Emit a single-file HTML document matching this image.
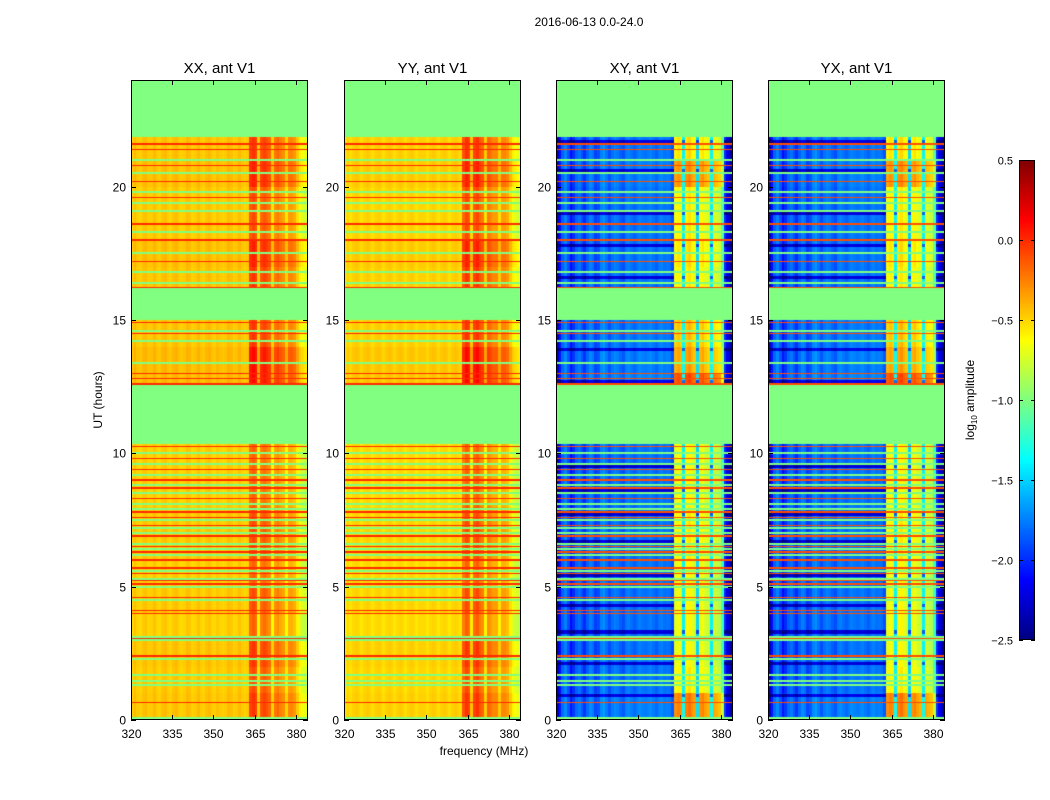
<!DOCTYPE html>
<html><head><meta charset="utf-8"><style>
body{margin:0;background:#fff;font-family:"Liberation Sans","DejaVu Sans",sans-serif;}
#wrap{position:relative;width:1050px;height:800px;overflow:hidden;background:#fff}
canvas{position:absolute}
</style></head><body>
<div id="wrap">
<svg id="ov" width="1050" height="800" style="position:absolute;left:0;top:0;z-index:2"></svg>
</div>
<script>
const freqs=[];for(let f=320;f<384;f++)freqs.push(f);
const xxBand=[-0.5,-0.45,-0.5,-0.52,-0.47,-0.45,-0.5,-0.5,-0.45,-0.5,-0.52,-0.47,-0.45,-0.5,-0.52,-0.47,-0.45,-0.5,-0.52,-0.5,-0.45,-0.47,-0.52,-0.5,-0.45,-0.5,-0.52,-0.47,-0.45,-0.5,-0.52,-0.47,-0.5,-0.52,-0.5,-0.45,-0.47,-0.52,-0.5,-0.45,-0.5,-0.52,-0.5,
-0.2,-0.15,-0.2,-0.6,-0.25,-0.2,-0.25,-0.3,-0.62,-0.35,-0.3,-0.38,-0.42,-0.62,-0.4,-0.4,-0.45,-0.6,-0.72,-0.78,-0.82];
const yyBand=[-0.56,-0.52,-0.56,-0.52,-0.5,-0.52,-0.56,-0.52,-0.5,-0.52,-0.56,-0.52,-0.5,-0.52,-0.56,-0.52,-0.5,-0.52,-0.56,-0.52,-0.5,-0.52,-0.56,-0.52,-0.5,-0.52,-0.56,-0.52,-0.52,-0.52,-0.56,-0.52,-0.5,-0.52,-0.56,-0.52,-0.5,-0.52,-0.56,-0.52,-0.5,-0.52,-0.55,
-0.25,-0.15,-0.2,-0.58,-0.2,-0.15,-0.25,-0.3,-0.6,-0.3,-0.35,-0.4,-0.4,-0.6,-0.4,-0.4,-0.45,-0.6,-0.72,-0.78,-0.82];
const xyBand=[-2.3,-2.1,-1.85,-1.75,-1.9,-2.1,-2.0,-1.85,-1.8,-1.9,-2.0,-1.85,-1.75,-1.8,-1.95,-1.9,-1.75,-1.7,-1.8,-1.9,-1.8,-1.75,-1.78,-1.85,-1.9,-1.78,-1.75,-1.8,-1.85,-1.8,-1.75,-1.78,-1.8,-1.78,-1.75,-1.8,-1.85,-1.78,-1.75,-1.8,-1.78,-1.8,-1.9,
-0.7,-0.65,-0.7,-1.4,-0.65,-0.6,-0.7,-0.75,-1.5,-0.7,-0.65,-0.75,-0.8,-1.4,-0.75,-0.8,-0.85,-1.2,-2.0,-2.2,-2.4];
const yxBand=xyBand.slice();
const hourXX=[0.1,0.05,0.1,0,0.05,0,0.05,0.05,0,0,0,0,0.2,0.2,0.1,0,0.1,0.15,0.05,0.05,0.15,0.1,0,0];
const hourXY=[0.4,0.05,0.0,0,0.0,0,0.05,0.05,0,0,0,0,0.55,0.3,0.2,0,0.05,0.1,0.05,0.05,0.35,0.1,0,0];
const darkRows=[0.9,2.1,3.3,4.3,5.4,6.7,7.7,8.6,9.5,12.7,13.9,16.6,17.8,19.0,20.6,21.7];
const flagRanges=[[21.85,24],[15.0,16.2],[10.35,12.55],[0,0.12]];
const flagLines=[1.3,1.45,1.7,2.3,3.0,3.1,4.5,5.0,5.3,5.6,6.2,6.4,6.6,7.0,7.2,7.5,7.9,8.1,8.5,8.8,9.2,9.6,10.0,13.4,14.2,14.6,16.4,16.8,17.5,18.3,19.1,19.4,19.8,20.5,21.0];
const redLines=[0.65,2.4,3.05,4.0,4.1,4.6,5.1,5.25,5.5,5.7,6.0,6.3,6.5,6.9,7.3,7.6,7.8,8.3,8.7,9.0,9.4,9.8,10.25,12.6,12.8,13.0,14.5,14.9,16.2,17.2,18.0,18.6,19.6,20.2,20.8,21.4,21.6];
const xTicks=[320,335,350,365,380];
const yTicks=[0,5,10,15,20];
const cbTicks=[0.5,0.0,-0.5,-1.0,-1.5,-2.0,-2.5];
const panels=[{t:"XX, ant V1",x:131,band:xxBand,hr:hourXX,cross:false},{t:"YY, ant V1",x:344,band:yyBand,hr:hourXX,cross:false},{t:"XY, ant V1",x:556,band:xyBand,hr:hourXY,cross:true},{t:"YX, ant V1",x:768,band:yxBand,hr:hourXY,cross:true}];
const PT=80,PH=640,PW=177,VMIN=-2.5,VMAX=0.5,FMIN=320,FMAX=384.4,HMAX=24;
function jet(v){let t=(v-VMIN)/(VMAX-VMIN);t=Math.max(0,Math.min(1,t));
 const c=x=>Math.round(255*Math.max(0,Math.min(1,1.5-Math.abs(4*t-x))));
 return `rgb(${c(3)},${c(2)},${c(1)})`;}
const xS=(f,x0)=>x0+(f-FMIN)/(FMAX-FMIN)*PW;
const yS=h=>PT+PH-h/HMAX*PH;
const HP=HMAX/PH;
const near=(h,arr,w)=>arr.some(a=>Math.abs(a-h)<HP*w);
const wrap=document.getElementById('wrap');
const svg=document.getElementById('ov');
const NS="http://www.w3.org/2000/svg";
function mk(tag,at,txt){const e=document.createElementNS(NS,tag);for(const k in at)e.setAttribute(k,at[k]);if(txt!==undefined)e.textContent=txt;svg.appendChild(e);return e;}
panels.forEach((p,pi)=>{
 const cv=document.createElement('canvas');cv.width=PW;cv.height=PH;cv.style.left=p.x+'px';cv.style.top=PT+'px';
 
 
 wrap.appendChild(cv);const g=cv.getContext('2d');
 for(let r=0;r<PH;r++){
  const hm=(PH-r-0.5)*HP;
  const flag=flagRanges.some(q=>hm>=q[0]&&hm<q[1])||near(hm,flagLines,1.0);
  const red=!flag&&near(hm,redLines,0.75);
  const dark=!flag&&!red&&p.cross&&near(hm,darkRows,1.5);
  freqs.forEach((f,i)=>{
   let v;
   if(flag)v=-1.0;
   else if(red)v=p.cross?-0.1:0.0;
   else{const b=p.band[i];const hi=b>-1.25;
     v=b+p.hr[Math.floor(hm)]*(p.cross?(hi?1:0.1):(f>=363?1.3:0.3));
     if(dark&&!hi)v-=0.45;}
   g.fillStyle=jet(v);
   const xa=Math.round(xS(f,p.x)-p.x),xb=Math.round(xS(f+1,p.x)-p.x);
   g.fillRect(xa,r,Math.max(1,xb-xa),1);
  });
  const xr=Math.round(xS(384,p.x)-p.x);g.fillRect(xr,r,PW-xr,1);
 }
 mk('rect',{x:p.x+0.5,y:PT+0.5,width:PW-1,height:PH-1,fill:'none',stroke:'#000','stroke-width':1,});
 mk('text',{x:p.x+PW/2,y:73,'text-anchor':'middle','font-size':15,},p.t);
 xTicks.forEach(t=>{const x=Math.round(xS(t,p.x))+0.5;
  mk('line',{x1:x,x2:x,y1:PT+PH,y2:PT+PH-5,stroke:'#000'});mk('line',{x1:x,x2:x,y1:PT,y2:PT+5,stroke:'#000'});
  mk('text',{x:x,y:738,'text-anchor':'middle','font-size':12,},String(t));});
 yTicks.forEach(t=>{const y=Math.round(yS(t))+0.5;
  mk('line',{x1:p.x,x2:p.x+5,y1:y,y2:y,stroke:'#000'});mk('line',{x1:p.x+PW,x2:p.x+PW-5,y1:y,y2:y,stroke:'#000'});
  mk('text',{x:p.x-5,y:y+4,'text-anchor':'end','font-size':12,},String(t));});
});
mk('text',{x:589,y:26,'text-anchor':'middle','font-size':12,},'2016-06-13 0.0-24.0');
mk('text',{x:484,y:755,'text-anchor':'middle','font-size':12,},'frequency (MHz)');
mk('text',{x:0,y:0,'text-anchor':'middle','font-size':12,transform:'translate(102,400) rotate(-90)',},'UT (hours)');
const CB={x:1019,y:160,w:16,h:480};
const cbc=document.createElement('canvas');cbc.width=CB.w;cbc.height=CB.h;cbc.style.left=CB.x+'px';cbc.style.top=CB.y+'px';


wrap.appendChild(cbc);const cg=cbc.getContext('2d');
for(let i=0;i<CB.h;i++){cg.fillStyle=jet(VMAX-(i+0.5)/CB.h*(VMAX-VMIN));cg.fillRect(0,i,CB.w,1);}
mk('rect',{x:CB.x+0.5,y:CB.y+0.5,width:CB.w-1,height:CB.h-1,fill:'none',stroke:'#000',});
cbTicks.forEach(t=>{const y=Math.round(CB.y+(VMAX-t)/(VMAX-VMIN)*CB.h)+0.5;
 mk('line',{x1:CB.x,x2:CB.x+4,y1:y,y2:y,stroke:'#000'});mk('line',{x1:CB.x+CB.w,x2:CB.x+CB.w-4,y1:y,y2:y,stroke:'#000'});
 mk('text',{x:1013,y:y+4,'text-anchor':'end','font-size':11,},(t<0?'\u2212':'')+Math.abs(t).toFixed(1));});
const cl=mk('text',{x:0,y:0,'text-anchor':'middle','font-size':12,transform:'translate(974,400) rotate(-90)',});
cl.innerHTML='log<tspan font-size="8" dy="3">10</tspan><tspan dy="-3"> amplitude</tspan>';
</script>
</body></html>
